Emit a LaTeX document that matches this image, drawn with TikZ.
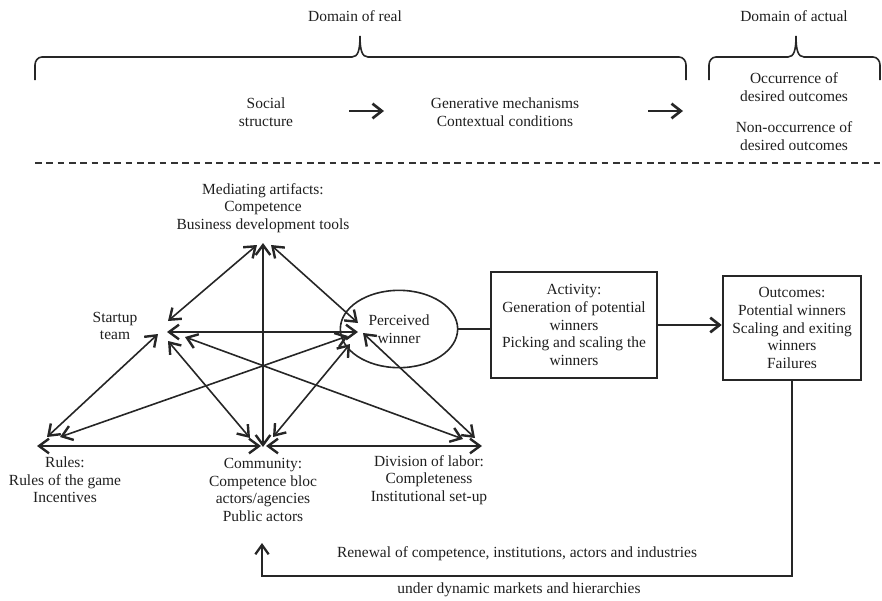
\documentclass[tikz,border=0pt]{standalone}
\usepackage{fontspec}
\setmainfont{Liberation Serif}
\usetikzlibrary{arrows.meta,shapes.geometric}
\begin{document}
\begin{tikzpicture}[x=0.75pt,y=-0.75pt,
  ink/.style={draw=black!85, line width=1.2pt},
  lbl/.style={align=center, font=\fontsize{11.6}{13.2}\selectfont, text=black!88, inner sep=0pt},
  barb/.tip={Straight Barb[length=7.5pt,width=11pt,line width=1.8pt]},
  biarrow/.style={ink, barb-barb},
  toparrow/.style={draw=black!85, line width=1.7pt, -{Straight Barb[length=7pt,width=11pt,line width=2pt]}},
  boxed/.style={lbl, draw=black!85, line width=1.4pt, inner sep=2pt}
]
\useasboundingbox (0,0) rectangle (882,600);

% ---------- upper band: domains ----------
\node[lbl] (real) at (355,16) {Domain of real};
\node[lbl] (actual) at (794,16) {Domain of actual};

\draw[ink] (35,80) -- (35,65) to[out=90,in=180] (42,57) -- (352,57)
  .. controls (358,57) and (360,50) .. (360,36)
  .. controls (360,50) and (362,57) .. (368,57) -- (679,57)
  to[out=0,in=90] (686,65) -- (686,80);
\draw[ink] (709,80) -- (709,65) to[out=90,in=180] (716,57) -- (788,57)
  .. controls (794,57) and (796,50) .. (796,36)
  .. controls (796,50) and (798,57) .. (804,57) -- (873,57)
  to[out=0,in=90] (880,65) -- (880,80);

\node[lbl] (soc) at (266,112) {Social\\structure};
\node[lbl] (gen) at (505,112) {Generative mechanisms\\Contextual conditions};
\node[lbl] (occ) at (794,87) {Occurrence of\\desired outcomes};
\node[lbl] (nonocc) at (794,136) {Non-occurrence of\\desired outcomes};

\coordinate (t1a) at (349,111);
\coordinate (t1b) at (384,111);
\coordinate (t2a) at (648,111);
\coordinate (t2b) at (683,111);
\draw[toparrow] (t1a) -- (t1b);
\draw[toparrow] (t2a) -- (t2b);

\draw[draw=black!80, line width=1.6pt, dash pattern=on 5pt off 3.5pt] (35,163) -- (882,163);

% ---------- activity system ----------
\node[lbl] (med) at (263,208) {Mediating artifacts:\\Competence\\Business development tools};
\node[lbl] (team) at (115,326) {Startup\\team};
\node[lbl] (rules) at (65,480) {Rules:\\Rules of the game\\Incentives};
\node[lbl] (comm) at (263,490) {Community:\\Competence bloc\\actors/agencies\\Public actors};
\node[lbl] (div) at (429,480) {Division of labor:\\Completeness\\Institutional set-up};

\node[lbl, draw=black!85, line width=1.2pt, ellipse, minimum width=88pt, minimum height=58pt] (pw) at (399,329) {Perceived\\winner};

% connector end points around each corner of the system
\coordinate (m1) at (257,245);
\coordinate (m2) at (263,243);
\coordinate (m3) at (271,245);
\coordinate (s1) at (168,321);
\coordinate (s2) at (167,332);
\coordinate (s3) at (158,334);
\coordinate (s4) at (168,341);
\coordinate (s5) at (185,337);
\coordinate (p1) at (358,323);
\coordinate (p2) at (358,332);
\coordinate (p3) at (348,336);
\coordinate (p4) at (350,344);
\coordinate (p5) at (363,333);
\coordinate (r1) at (47,437);
\coordinate (r2) at (60,437);
\coordinate (r3) at (37,446);
\coordinate (c1) at (250,438);
\coordinate (c2) at (263,447);
\coordinate (c3) at (273,437);
\coordinate (c4) at (261,446);
\coordinate (c5) at (266,446);
\coordinate (d1) at (463,439);
\coordinate (d2) at (475,438);
\coordinate (d3) at (482,446);

\draw[biarrow] (m1) -- (s1);
\draw[biarrow] (m2) -- (c2);
\draw[biarrow] (m3) -- (p1);
\draw[biarrow] (s2) -- (p2);
\draw[biarrow] (s4) -- (c1);
\draw[biarrow] (s5) -- (d1);
\draw[biarrow] (r1) -- (s3);
\draw[biarrow] (r2) -- (p3);
\draw[biarrow] (p4) -- (c3);
\draw[biarrow] (p5) -- (d2);
\draw[biarrow] (r3) -- (c4);
\draw[biarrow] (c5) -- (d3);

% ---------- activity and outcomes ----------
\node[boxed, minimum width=124.5pt, minimum height=80pt] (act) at (574,325)
  {Activity:\\Generation of potential\\winners\\Picking and scaling the\\winners};
\node[boxed, minimum width=104pt, minimum height=78pt] (out) at (792,328)
  {Outcomes:\\Potential winners\\Scaling and exiting\\winners\\Failures};

\draw[ink] (pw.east) -- (pw.east -| act.west);
\draw[toparrow, line width=1.4pt] (act.east) -- (act.east -| out.west);

% ---------- feedback loop ----------
\coordinate (fb) at (262,543);
\draw[ink, line width=1.4pt, -{Straight Barb[length=7pt,width=10pt,line width=1.7pt]}]
  (out.south) -- ++(0,195) -| (fb);
\node[lbl] (renew) at (517,554) {Renewal of competence, institutions, actors and industries};
\node[lbl] (under) at (519,590) {under dynamic markets and hierarchies};
\end{tikzpicture}
\end{document}
